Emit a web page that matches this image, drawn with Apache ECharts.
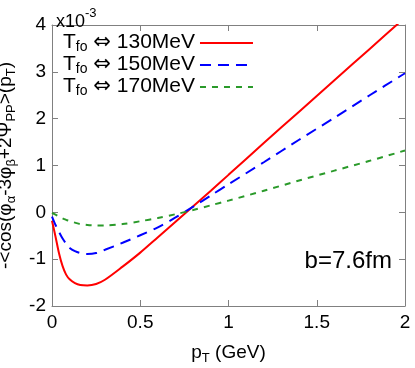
<!DOCTYPE html>
<html lang="en">
  <head>
    <meta charset="utf-8" />
    <script type="text/javascript" src="https://cdn.jsdelivr.net/npm/echarts@6/dist/echarts.min.js"></script>
    <title>cos correlator vs pT</title>
    <style>
      html, body { margin: 0; padding: 0; background: #fff; }
      #chart { width: 415px; height: 368px; }
    </style>
  </head>
  <body>
    <div id="chart"></div>
    <script>
      // pT (GeV) sample points, values in units of 1e-3
      var pt = [0, 0.02, 0.04, 0.06, 0.08, 0.1, 0.13, 0.16, 0.2, 0.25, 0.3, 0.4, 0.5, 0.6, 0.7, 0.8, 0.9, 1.0, 1.2, 1.4, 1.6, 1.8, 2.0]
      var t130 = [-0.18, -0.52, -0.88, -1.15, -1.33, -1.43, -1.51, -1.55, -1.56, -1.53, -1.44, -1.16, -0.86, -0.53, -0.2, 0.13, 0.46, 0.8, 1.48, 2.15, 2.82, 3.49, 4.16]
      var t150 = [-0.09, -0.27, -0.42, -0.56, -0.67, -0.76, -0.83, -0.87, -0.89, -0.87, -0.8, -0.65, -0.49, -0.32, -0.11, 0.12, 0.36, 0.6, 1.07, 1.55, 2.02, 2.5, 2.97]
      var t170 = [-0.01, -0.05, -0.09, -0.13, -0.16, -0.19, -0.22, -0.25, -0.27, -0.28, -0.28, -0.25, -0.19, -0.12, -0.04, 0.05, 0.15, 0.25, 0.46, 0.68, 0.89, 1.1, 1.32]
      var names = ['130MeV', '150MeV', '170MeV']

      var font = 'Liberation Sans'
      var frame = '#808080'

      function pairs(ys) {
        return pt.map(function (x, i) { return [x, ys[i]] })
      }

      var chart = echarts.init(document.getElementById('chart'), null, { renderer: 'canvas' })

      var tickAxis = {
        axisLine: { show: true, onZero: false, lineStyle: { color: frame, width: 1 } },
        axisTick: { show: true, inside: true, length: 6, lineStyle: { color: frame } },
        splitLine: { show: false }
      }

      function rich(size, subSize, lh) {
        return {
          t: { fontSize: size, fontFamily: font, fontWeight: 'normal', color: '#000', lineHeight: lh, verticalAlign: 'top' },
          s: { fontSize: subSize, fontFamily: font, fontWeight: 'normal', color: '#000', lineHeight: lh, verticalAlign: 'bottom' },
          a: { fontSize: size, fontFamily: 'DejaVu Sans', fontWeight: 'normal', color: '#000', lineHeight: lh, verticalAlign: 'top' }
        }
      }

      chart.setOption({
        animation: false,
        backgroundColor: '#fff',
        textStyle: { fontFamily: font },
        grid: { left: 52, right: 10, top: 25, bottom: 62, outerBoundsMode: 'none', containLabel: false },
        title: [
          {
            text: '{a|x10}{s|-3}',
            left: 51, top: 2,
            textStyle: {
              rich: {
                a: { fontSize: 18, fontFamily: font, fontWeight: 'normal', color: '#000', lineHeight: 24, verticalAlign: 'bottom' },
                s: { fontSize: 13, fontFamily: font, fontWeight: 'normal', color: '#000', lineHeight: 24, verticalAlign: 'top' }
              }
            }
          },
          {
            text: 'b=7.6fm',
            right: 18, top: 244,
            textStyle: { fontSize: 24, fontWeight: 'normal', fontFamily: font, color: '#000' }
          }
        ],
        legend: {
          orient: 'vertical',
          left: 58, top: 27,
          align: 'right',
          itemWidth: 53, itemHeight: 14,
          itemGap: 0,
          itemTextGap: 13,
          selectedMode: false,
          data: names,
          itemStyle: { color: 'rgba(0,0,0,0)', borderWidth: 0, opacity: 0 },
          formatter: function (n) { return '{t|T}{s|fo}{t| }{a|\u21d4}{t| ' + n + '}' },
          textStyle: { rich: rich(21, 14, 22) }
        },
        xAxis: [
          Object.assign({
            type: 'value', min: 0, max: 2, interval: 0.5,
            name: '{t|p}{s|T}{t| (GeV)}',
            nameLocation: 'middle', nameGap: 37,
            nameTextStyle: { rich: rich(19, 13, 22) },
            axisLabel: { fontSize: 19, color: '#000', margin: 7, fontFamily: font }
          }, tickAxis),
          Object.assign({
            type: 'value', min: 0, max: 2, interval: 0.5, position: 'top',
            axisLabel: { show: false }
          }, tickAxis)
        ],
        yAxis: [
          Object.assign({
            type: 'value', min: -2, max: 4, interval: 1,
            name: '{t|-<cos(\u03c6}{s|\u03b1}{t|-3\u03c6}{s|\u03b2}{t|+2\u03a8}{s|PP}{t|>(p}{s|T}{t|)}',
            nameLocation: 'middle', nameGap: 25, nameRotate: 90,
            nameTextStyle: { rich: rich(19, 13, 22) },
            axisLabel: { fontSize: 19, color: '#000', margin: 6, fontFamily: font }
          }, tickAxis),
          Object.assign({
            type: 'value', min: -2, max: 4, interval: 1, position: 'right',
            axisLabel: { show: false }
          }, tickAxis)
        ],
        series: [
          {
            name: names[0], type: 'line', data: pairs(t130), smooth: 0.3,
            symbol: 'none', clip: true, color: '#ff0000',
            lineStyle: { color: '#ff0000', width: 2, type: 'solid' }
          },
          {
            name: names[1], type: 'line', data: pairs(t150), smooth: 0.3,
            symbol: 'none', clip: true, color: '#0000ff',
            lineStyle: { color: '#0000ff', width: 2, type: [11, 7] }
          },
          {
            name: names[2], type: 'line', data: pairs(t170), smooth: 0.3,
            symbol: 'none', clip: true, color: '#2a9a2a',
            lineStyle: { color: '#2a9a2a', width: 2, type: [6, 6] }
          }
        ]
      })
    </script>
  </body>
</html>
